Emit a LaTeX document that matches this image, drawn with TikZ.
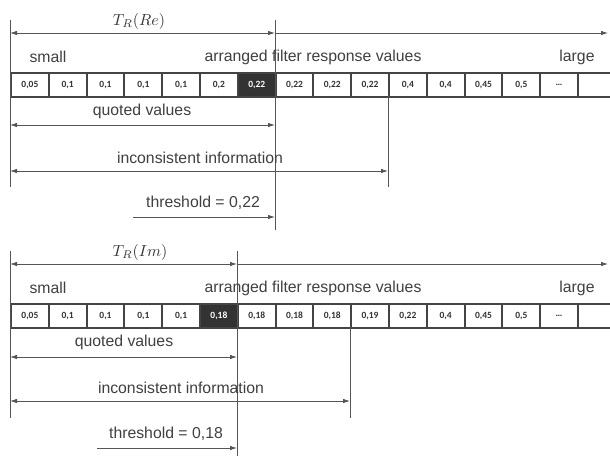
\documentclass[tikz,border=0pt]{standalone}
\usepackage{graphicx}
\usepackage{fontspec}
\setmainfont{Liberation Sans}
\newfontfamily\cellfont{Carlito}
\usetikzlibrary{arrows.meta}
\definecolor{txt}{HTML}{404040}
\definecolor{ln}{HTML}{555555}
\definecolor{cb}{HTML}{444444}
\definecolor{dk}{HTML}{333333}
\tikzset{
  lbl/.style={text=txt, font=\fontsize{15.8}{18}\selectfont, inner sep=0pt},
  mlbl/.style={text=dk, inner sep=0pt},
  cell/.style={draw=cb, line width=2pt, minimum width=37.8pt, minimum height=23.5pt,
    inner sep=0pt, anchor=north west, font=\cellfont\bfseries\fontsize{9.5}{11}\selectfont},
  guide/.style={draw=ln, line width=0.8pt},
  dim/.style={guide, {Latex[length=7pt,width=4.5pt]}-{Latex[length=7pt,width=4.5pt]}},
  ray/.style={guide, -{Latex[length=7pt,width=4.5pt]}},
}
\begin{document}
\begin{tikzpicture}[x=1pt,y=-1pt]
\useasboundingbox (0,0) rectangle (610,456);
\clip (0,0) rectangle (610,456);
\fill[white] (0,0) rectangle (610,456);

% ---------- top panel ----------
\foreach \v [count=\i] in {0{,}05,0{,}1,0{,}1,0{,}1,0{,}1,0{,}2,0{,}22,0{,}22,0{,}22,0{,}22,0{,}4,0{,}4,0{,}45,0{,}5,\ldots,{}} {
  \ifnum\i=7 \def\fc{dk}\def\tc{white}\else\def\fc{white}\def\tc{dk}\fi
  \node[cell, fill=\fc, text=\tc] (a\i) at ({10+37.8*(\i-1)},72) {\v};
}
\coordinate (aL0) at (10,20);  \coordinate (aL1) at (10,187);
\coordinate (aV0) at (275,20); \coordinate (aV1) at (275,230);
\coordinate (aW0) at (388,96); \coordinate (aW1) at (388,187);
\draw[guide] (aL0) -- (aL1);
\draw[guide] (aV0) -- (aV1);
\draw[guide] (aW0) -- (aW1);
\coordinate (aT0) at (10,33); \coordinate (aT1) at (275,33); \coordinate (aT2) at (608,33);
\draw[dim] (aT0) -- (aT1);
\draw[ray] (aT1) -- (aT2);
\node[mlbl] (aTR) at (139,21) {\scalebox{1.6}{$T_R(Re)$}};
\node[lbl] (asmall) at (48,57) {small};
\node[lbl] (aarr) at (313,57) {arranged filter response values};
\node[lbl] (alarge) at (577,57) {large};
\coordinate (aQ0) at (10,125); \coordinate (aQ1) at (275,125);
\draw[dim] (aQ0) -- (aQ1);
\node[lbl] (aq) at (142,111) {quoted values};
\coordinate (aI0) at (10,171); \coordinate (aI1) at (388,171);
\draw[dim] (aI0) -- (aI1);
\node[lbl] (ai) at (200,158) {inconsistent information};
\coordinate (aH0) at (133,217); \coordinate (aH1) at (275,217);
\draw[ray] (aH0) -- (aH1);
\node[lbl] (ah) at (203,203) {threshold = 0,22};

% ---------- bottom panel ----------
\foreach \v [count=\i] in {0{,}05,0{,}1,0{,}1,0{,}1,0{,}1,0{,}18,0{,}18,0{,}18,0{,}18,0{,}19,0{,}22,0{,}4,0{,}45,0{,}5,\ldots,{}} {
  \ifnum\i=6 \def\fc{dk}\def\tc{white}\else\def\fc{white}\def\tc{dk}\fi
  \node[cell, fill=\fc, text=\tc] (b\i) at ({10+37.8*(\i-1)},303) {\v};
}
\coordinate (bL0) at (10,251);  \coordinate (bL1) at (10,418);
\coordinate (bV0) at (237,251); \coordinate (bV1) at (237,456);
\coordinate (bW0) at (350,327); \coordinate (bW1) at (350,418);
\draw[guide] (bL0) -- (bL1);
\draw[guide] (bV0) -- (bV1);
\draw[guide] (bW0) -- (bW1);
\coordinate (bT0) at (10,264); \coordinate (bT1) at (237,264); \coordinate (bT2) at (608,264);
\draw[dim] (bT0) -- (bT1);
\draw[ray] (bT1) -- (bT2);
\node[mlbl] (bTR) at (140,252) {\scalebox{1.6}{$T_R(Im)$}};
\node[lbl] (bsmall) at (48,288) {small};
\node[lbl] (barr) at (313,288) {arranged filter response values};
\node[lbl] (blarge) at (577,288) {large};
\coordinate (bQ0) at (10,357); \coordinate (bQ1) at (237,357);
\draw[dim] (bQ0) -- (bQ1);
\node[lbl] (bq) at (124,342) {quoted values};
\coordinate (bI0) at (10,401); \coordinate (bI1) at (350,401);
\draw[dim] (bI0) -- (bI1);
\node[lbl] (bi) at (181,388) {inconsistent information};
\coordinate (bH0) at (97,448); \coordinate (bH1) at (237,448);
\draw[ray] (bH0) -- (bH1);
\node[lbl] (bh) at (166,434) {threshold = 0,18};
\end{tikzpicture}
\end{document}
